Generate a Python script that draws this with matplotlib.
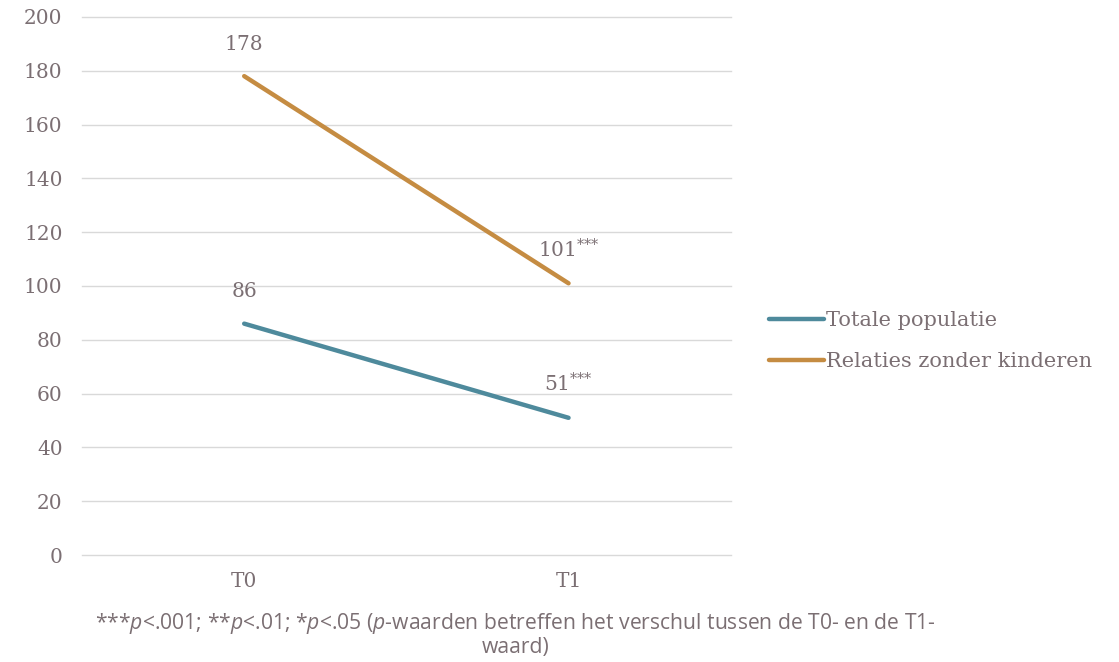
import matplotlib
matplotlib.use('Agg')
import matplotlib.pyplot as plt

# data
categories = ['T0', 'T1']
totale = [86, 51]
zonder_kinderen = [178, 101]
labels_totale = ['86', '51$^{{*}{*}{*}}$']
labels_zonder = ['178', '101$^{{*}{*}{*}}$']
yticks = list(range(0, 201, 20))

text_col = '#7b6f73'
teal = '#4e8a9c'
gold = '#c58c42'

plt.rcParams['font.family'] = ['DejaVu Serif']
plt.rcParams['mathtext.fontset'] = 'custom'
plt.rcParams['mathtext.rm'] = 'DejaVu Serif'
plt.rcParams['mathtext.it'] = 'Open Sans:italic'


def main():
    fig = plt.figure(figsize=(11.19, 6.62), dpi=100)
    ax = fig.add_axes([0.0733, 0.1616, 0.5797, 0.8128])

    x = [0, 1]
    ax.plot(x, totale, color=teal, lw=3.2, solid_capstyle='round',
            label='Totale populatie')
    ax.plot(x, zonder_kinderen, color=gold, lw=3.2, solid_capstyle='round',
            label='Relaties zonder kinderen')

    # data labels
    for xi, v, lab in zip(x, totale, labels_totale):
        ax.annotate(lab, (xi, v), xytext=(0, 16), textcoords='offset points',
                    ha='center', va='bottom', color=text_col, fontsize=14.5)
    for xi, v, lab in zip(x, zonder_kinderen, labels_zonder):
        ax.annotate(lab, (xi, v), xytext=(0, 16), textcoords='offset points',
                    ha='center', va='bottom', color=text_col, fontsize=14.5)

    ax.set_xlim(-0.5, 1.5)
    ax.set_ylim(0, 200)
    ax.set_yticks(yticks)
    ax.set_xticks(x)
    ax.set_xticklabels(categories)
    ax.grid(axis='y', color='#d9d9d9', lw=1)
    for gl in ax.get_ygridlines():
        gl.set_clip_on(False)
    ax.set_axisbelow(True)
    for s in ax.spines.values():
        s.set_visible(False)
    ax.tick_params(length=0, labelsize=14.5, labelcolor=text_col)
    ax.tick_params(axis='y', pad=14)
    ax.tick_params(axis='x', pad=12)

    leg = ax.legend(loc='center left', bbox_to_anchor=(1.03, 0.398),
                    frameon=False, fontsize=15, handlelength=2.65,
                    handletextpad=0.1, labelspacing=1.05)
    for t in leg.get_texts():
        t.set_color(text_col)

    # footnote
    foot = ('***$\\it{p}$<.001; **$\\it{p}$<.01; *$\\it{p}$<.05 '
            '($\\it{p}$-waarden betreffen het verschul tussen de T0- en de T1-')
    fig.text(0.461, 1 - 624 / 662, foot, ha='center', va='center',
             color=text_col, fontsize=15.2, family='Open Sans')
    fig.text(0.461, 1 - 647 / 662, 'waard)', ha='center', va='center',
             color=text_col, fontsize=15.2, family='Open Sans')

    fig.savefig('out.png', dpi=100)


if __name__ == '__main__':
    main()
